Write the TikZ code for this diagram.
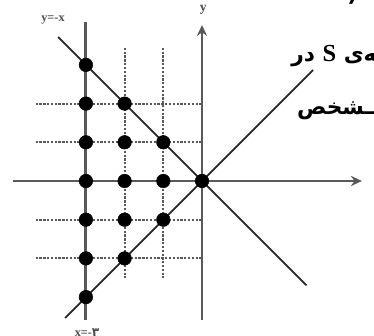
\documentclass[tikz,border=0pt]{standalone}
\usepackage{fontspec}
\usetikzlibrary{arrows.meta}
\TeXXeTstate=1
\newfontfamily\farsifont[Script=Arabic]{DejaVu Sans}
\newfontfamily\latinserif{Liberation Serif}
\tikzstyle{dot} = [draw,fill=black,circle,inner sep=0pt,minimum size=0.35cm]
\tikzstyle{axisline} = [draw=black!65,line width=2.1pt]
\tikzstyle{gridline} = [draw=black!65,line width=1.6pt,dash pattern=on 1.7pt off 1.1pt]
\tikzstyle{diagline} = [draw=black!85,line width=1.3pt]
\tikzstyle{farsi} = [font=\farsifont\bfseries\fontsize{16}{18}\selectfont,inner sep=0pt]

\begin{document}
\begin{tikzpicture}[>={Stealth[length=8pt,width=7.5pt]}]

\useasboundingbox (-5.22,-4.005) rectangle (4.444,4.677);
\clip (-5.22,-4.005) rectangle (4.444,4.677);

% ends of the lines
\coordinate (xl) at (-4.88,0);
\coordinate (xr) at (4.13,0);
\coordinate (yb) at (0,-3.59);
\coordinate (yt) at (0,4.03);
\coordinate (vat) at (-3,4.11);
\coordinate (vab) at (-3,-3.59);
\coordinate (vbt) at (-2,3.44);
\coordinate (vbb) at (-2,-2.5);
\coordinate (vct) at (-1,3.44);
\coordinate (vcb) at (-1,-2.5);
\foreach \k in {-2,-1,1,2}
  \coordinate (h\k) at (-4.3,\k);
\coordinate (mt) at (-3.72,3.72);
\coordinate (mb) at (2.7,-2.7);
\coordinate (pb) at (-3.54,-3.54);
\coordinate (pt) at (2.87,2.87);

% dashed grid
\path
(vbt) edge [gridline] (vbb)
(vct) edge [gridline] (vcb);
\foreach \k in {-2,-1,1,2}
  \draw[gridline] (h\k) -- (0,\k);

% solid lines
\draw[axisline] (vat) -- (vab);
\draw[axisline,->] (xl) -- (xr);
\draw[axisline,->] (yb) -- (yt);
\draw[diagline] (mt) -- (mb);
\draw[diagline] (pb) -- (pt);

% points of S
\node[dot] (a3) at (-3,3) {};
\node[dot] (a2) at (-3,2) {};
\node[dot] (a1) at (-3,1) {};
\node[dot] (a0) at (-3,0) {};
\node[dot] (am1) at (-3,-1) {};
\node[dot] (am2) at (-3,-2) {};
\node[dot] (am3) at (-3,-3) {};
\node[dot] (b2) at (-2,2) {};
\node[dot] (b1) at (-2,1) {};
\node[dot] (b0) at (-2,0) {};
\node[dot] (bm1) at (-2,-1) {};
\node[dot] (bm2) at (-2,-2) {};
\node[dot] (c1) at (-1,1) {};
\node[dot] (c0) at (-1,0) {};
\node[dot] (cm1) at (-1,-1) {};
\node[dot] (O) at (0,0) {};

% labels
\node[font=\latinserif\bfseries\fontsize{9}{10}\selectfont,text=black!70] (lm) at (-3.85,4.16) {y=-x};
\node[font=\latinserif\bfseries\fontsize{10}{11}\selectfont,text=black!70] (ly) at (0.03,4.42) {y};
\node[font=\latinserif\bfseries\fontsize{9}{10}\selectfont,text=black!70] (lx) at (-2.97,-3.93) {x=-{\farsifont ۳}};

% text of the page
\node[farsi,anchor=base west] (t1) at (2.3,3.08) {\beginR ـه‌ی {\latinserif\bfseries\fontsize{18}{19}\selectfont S} در\endR};
\node[farsi,anchor=base west] (t2) at (2.45,1.73) {\beginR ـمـشخص\endR};
\node[farsi,anchor=base west] (t0) at (3.75,4.63) {(};

\end{tikzpicture}
\end{document}
